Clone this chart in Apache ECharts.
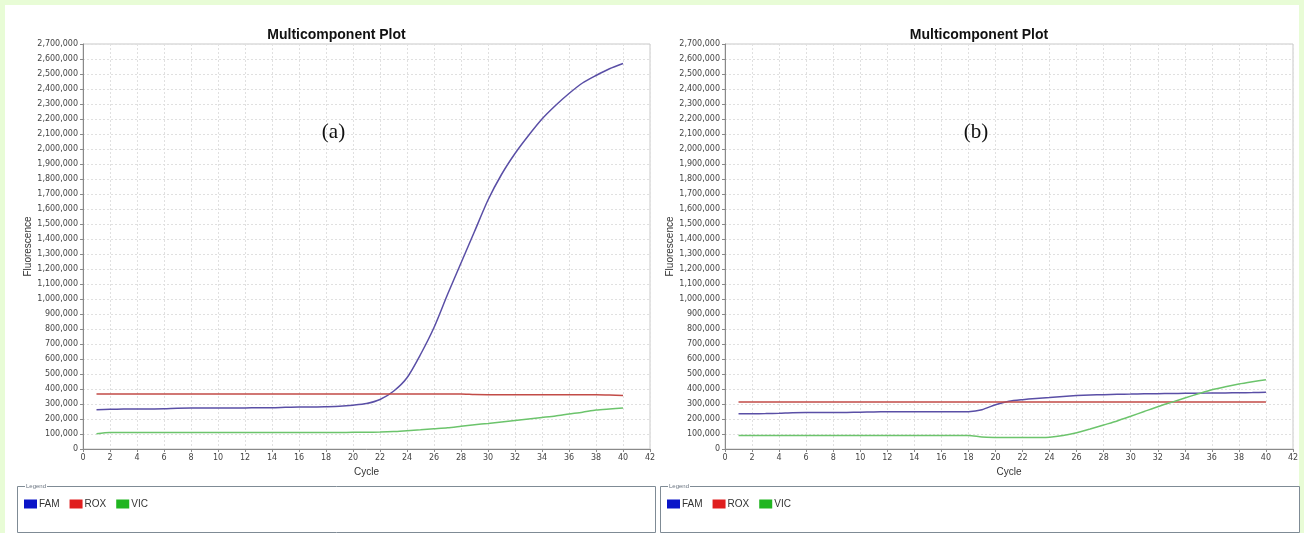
<!DOCTYPE html>
<html>
<head>
<meta charset="utf-8">
<script src="https://cdn.jsdelivr.net/npm/echarts@6/dist/echarts.min.js"></script>
<style>
  html, body { margin: 0; padding: 0; background: #e8fcd6; width: 1304px; height: 533px; overflow: hidden; }
  #panel { position: absolute; left: 5px; top: 5px; width: 1294px; height: 528px; background: #ffffff; }
  #chart { position: absolute; left: 0; top: 0; width: 1304px; height: 533px; }
</style>
</head>
<body>
<div id="panel"></div>
<div id="chart"></div>
<script>
// Amplification cycles
const cycles = [1,2,3,4,5,6,7,8,9,10,11,12,13,14,15,16,17,18,19,20,
                21,22,23,24,25,26,27,28,29,30,31,32,33,34,35,36,37,38,39,40];

// Panel (a): dye fluorescence per cycle
const famA = [262000,265000,266000,266000,267000,268000,272000,273000,273000,274000,
              274000,274000,275000,275000,278000,280000,280000,282000,285000,292000,
              303000,330000,385000,475000,630000,810000,1030000,1240000,1450000,1660000,
              1830000,1970000,2090000,2200000,2290000,2370000,2440000,2490000,2535000,2570000];
const roxA = [367000,367000,367000,367000,367000,367000,367000,367000,367000,367000,
              367000,367000,367000,367000,367000,367000,367000,367000,367000,367000,
              367000,367000,367000,367000,367000,367000,367000,367000,363000,362000,
              362000,362000,362000,362000,362000,362000,362000,362000,360000,356000];
const vicA = [102000,110000,110000,110000,110000,110000,110000,110000,110000,110000,
              110000,110000,110000,110000,110000,110000,110000,110000,110000,111000,
              112000,113000,116000,122000,128000,135000,142000,152000,162000,170000,
              180000,190000,200000,210000,220000,233000,245000,260000,267000,273000];

// Panel (b): dye fluorescence per cycle
const famB = [235000,235000,236000,238000,242000,243000,243000,244000,244000,245000,
              247000,248000,248000,248000,248000,248000,248000,249000,262000,295000,
              318000,329000,337000,343000,350000,356000,360000,362000,365000,366000,
              368000,369000,370000,371000,372000,373000,374000,375000,376000,378000];
const roxB = [313000,313000,313000,313000,313000,313000,313000,313000,313000,313000,
              313000,313000,313000,313000,313000,313000,313000,313000,313000,313000,
              313000,313000,313000,313000,313000,313000,313000,313000,313000,313000,
              313000,313000,313000,313000,313000,313000,313000,313000,313000,313000];
const vicB = [90000,90000,90000,90000,90000,90000,90000,90000,90000,90000,
              90000,90000,90000,90000,90000,90000,90000,90000,80000,77000,
              76000,76000,77000,79000,90000,108000,133000,160000,187000,218000,
              250000,282000,311000,340000,368000,395000,415000,433000,448000,462000];

const dyeNames = ['FAM', 'ROX', 'VIC'];
const lineColors = { FAM: '#5a4fa6', ROX: '#c24b47', VIC: '#6cc46c' };
const swatchColors = { FAM: '#0a14c8', ROX: '#e01e1e', VIC: '#20b520' };
const panelLabels = ['(a)', '(b)'];
const chartTitle = 'Multicomponent Plot';

const panels = [
  { FAM: famA, ROX: roxA, VIC: vicA },
  { FAM: famB, ROX: roxB, VIC: vicB }
];

// Layout of the two side-by-side plots
const grids = [
  { left: 83, top: 44, width: 567, height: 405 },
  { left: 725, top: 44, width: 568, height: 405 }
];
const legendBoxes = [
  { x: 17, y: 486, w: 638, h: 46 },
  { x: 660, y: 486, w: 639, h: 46 }
];

const tickFont = { fontFamily: 'DejaVu Sans', fontSize: 8, color: '#444' };
const gridLine = { show: true, lineStyle: { color: '#e0e0e0', type: [2, 2], width: 1 } };

const pairs = arr => arr.map((v, i) => [cycles[i], v]);

const option = {
  animation: false,
  title: grids.map(g => ({
    text: chartTitle,
    left: g.left + g.width / 2 - 35,
    top: 23,
    textAlign: 'center',
    textStyle: { fontFamily: 'Liberation Sans', fontWeight: 'bold', fontSize: 14, color: '#111' }
  })),
  grid: grids.map(g => Object.assign({ show: true, borderColor: '#c9c9c9', borderWidth: 1, containLabel: false }, g)),
  xAxis: grids.map((g, i) => ({
    type: 'value', gridIndex: i, min: 0, max: 42, interval: 2,
    name: 'Cycle', nameLocation: 'middle', nameGap: 15,
    nameTextStyle: { fontFamily: 'Liberation Sans', fontSize: 10, color: '#333' },
    axisLine: { show: true, onZero: false, lineStyle: { color: '#8a8a8a' } },
    axisTick: { show: true, length: 3, lineStyle: { color: '#8a8a8a' } },
    axisLabel: Object.assign({ margin: 5 }, tickFont),
    splitLine: gridLine
  })),
  yAxis: grids.map((g, i) => ({
    type: 'value', gridIndex: i, min: 0, max: 2700000, interval: 100000,
    name: 'Fluorescence', nameLocation: 'middle', nameGap: 47, nameRotate: 90,
    nameTextStyle: { fontFamily: 'Liberation Sans', fontSize: 10, color: '#333' },
    axisLine: { show: true, lineStyle: { color: '#8a8a8a' } },
    axisTick: { show: true, length: 3, lineStyle: { color: '#8a8a8a' } },
    axisLabel: Object.assign({ margin: 5, formatter: v => v.toLocaleString('en-US') }, tickFont),
    splitLine: gridLine
  })),
  legend: legendBoxes.map(b => ({
    left: b.x + 2, top: b.y + 8,
    orient: 'horizontal',
    icon: 'rect', itemWidth: 13, itemHeight: 9, itemGap: 10,
    selectedMode: false,
    textStyle: { fontFamily: 'Liberation Sans', fontSize: 10, color: '#333', padding: [0, 0, 0, -3] },
    data: dyeNames.map(n => ({ name: n, itemStyle: { color: swatchColors[n] } }))
  })),
  graphic: [].concat(
    legendBoxes.map(b => ({
      type: 'rect', shape: { x: b.x + 0.5, y: b.y + 0.5, width: b.w, height: b.h },
      style: { fill: 'none', stroke: '#7f8b95', lineWidth: 1 }, z: 1
    })),
    legendBoxes.map(b => ({
      type: 'text', x: b.x + 8, y: b.y - 3,
      style: { text: 'Legend', fontFamily: 'Liberation Sans', fontSize: 6, fill: '#6a7480',
               backgroundColor: '#fff', padding: [0, 1] },
      z: 2
    })),
    grids.map((g, i) => ({
      type: 'text', x: g.left + g.width / 2 - 33, y: 132,
      style: { text: panelLabels[i], fontFamily: 'Liberation Serif', fontSize: 21, fill: '#111',
               textAlign: 'center', textVerticalAlign: 'middle' },
      z: 5
    }))
  ),
  series: []
};

panels.forEach((p, i) => {
  dyeNames.forEach(n => {
    option.series.push({
      name: n, type: 'line', xAxisIndex: i, yAxisIndex: i,
      data: pairs(p[n]),
      showSymbol: false, smooth: 0.25,
      lineStyle: { color: lineColors[n], width: 1.5 },
      itemStyle: { color: lineColors[n] }
    });
  });
});

const chart = echarts.init(document.getElementById('chart'), null, { renderer: 'canvas' });
chart.setOption(option);
</script>
</body>
</html>
